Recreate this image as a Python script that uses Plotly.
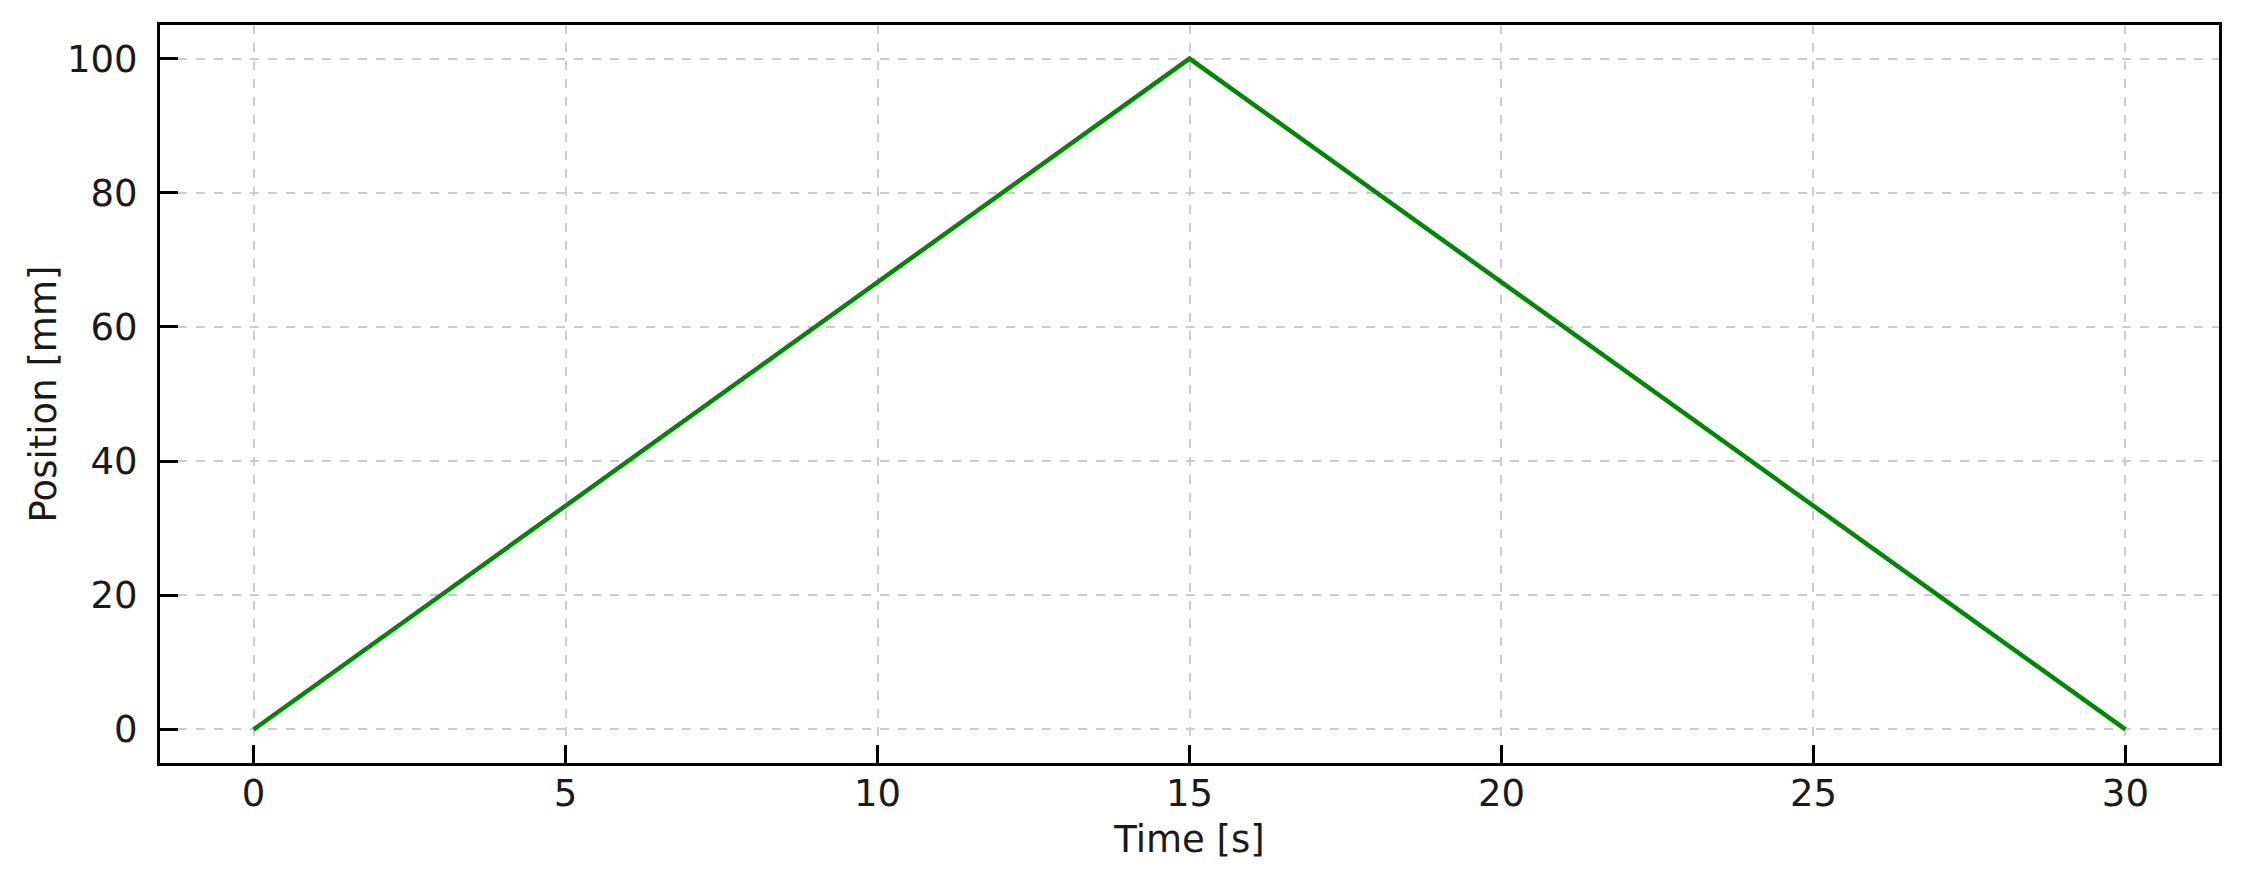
import plotly.graph_objects as go

time_s = [0, 15, 30]
position_mm = [0, 100, 0]
x_ticks = [0, 5, 10, 15, 20, 25, 30]
y_ticks = [0, 20, 40, 60, 80, 100]

fig = go.Figure()
fig.add_trace(go.Scatter(x=time_s, y=position_mm, mode="lines",
                         line=dict(color="#008800", width=4.5), showlegend=False))

font = dict(family="DejaVu Sans", size=37, color="#1a1a1a")
axis_common = dict(
    showline=True, linecolor="black", linewidth=3, mirror=True,
    ticks="inside", ticklen=18, tickwidth=2.5, tickcolor="black",
    showgrid=True, gridcolor="#cccccc", gridwidth=1.5, griddash="dash",
    zeroline=False, tickfont=font,
)
fig.update_xaxes(range=[-1.5, 31.5], tickvals=x_ticks,
                 title=dict(text="Time [s]", font=font, standoff=12),
                 ticklabelstandoff=-4, **axis_common)
fig.update_yaxes(range=[-5, 105], tickvals=y_ticks,
                 title=dict(text="Position [mm]", font=font, standoff=0),
                 ticklabelstandoff=12, **axis_common)
fig.update_layout(width=2243, height=879, plot_bgcolor="white", paper_bgcolor="white",
                  margin=dict(l=160, r=24, t=25, b=116))
fig.write_html("out.html", config={"displayModeBar": False},
               post_script="document.body.style.margin='0';document.body.style.overflow='hidden';")
